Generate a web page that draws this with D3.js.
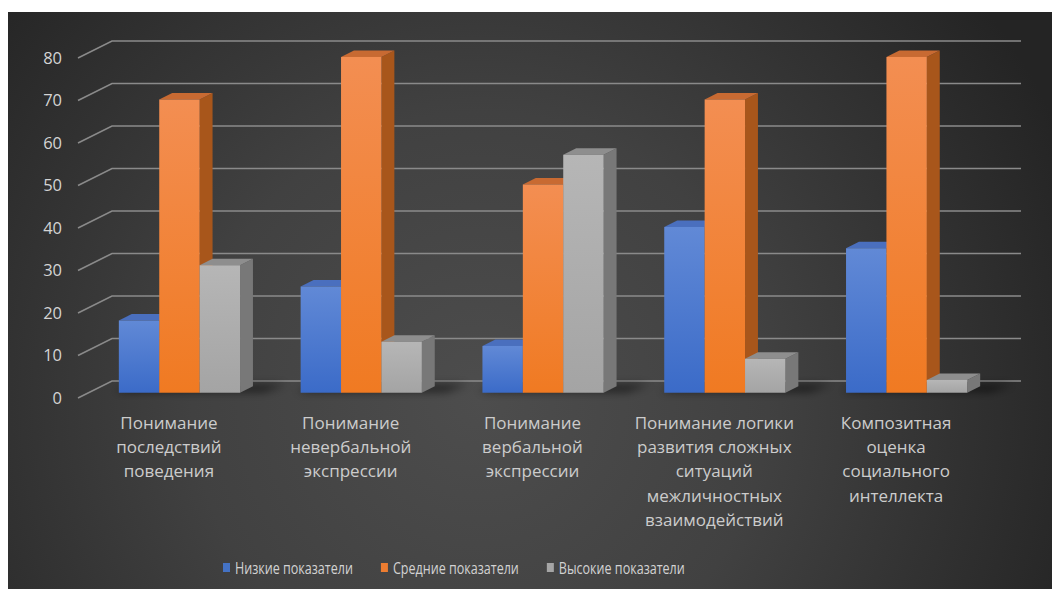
<!DOCTYPE html>
<html>
<head>
<meta charset="utf-8">
<script src="https://cdn.jsdelivr.net/npm/d3@7"></script>
<style>
  html, body { margin: 0; padding: 0; background: #ffffff; }
  svg { display: block; }
</style>
</head>
<body>
<svg id="chart" width="1052" height="589"></svg>
<script>
// Category labels (one array entry per line of the wrapped label)
const categories = [
  ["Понимание", "последствий", "поведения"],
  ["Понимание", "невербальной", "экспрессии"],
  ["Понимание", "вербальной", "экспрессии"],
  ["Понимание логики", "развития сложных", "ситуаций", "межличностных", "взаимодействий"],
  ["Композитная", "оценка", "социального", "интеллекта"]
];
const seriesNames = ["Низкие показатели", "Средние показатели", "Высокие показатели"];
const lowValues  = [17, 25, 11, 39, 34];
const midValues  = [69, 79, 49, 69, 79];
const highValues = [30, 12, 56, 8, 3];
const yTicks = [0, 10, 20, 30, 40, 50, 60, 70, 80];

const seriesValues = [lowValues, midValues, highValues];

// face colours per series: front gradient (top, bottom), top face, side face
const palette = [
  { top: "#6189d6", bottom: "#3b6bc8", cap: "#4a6fbe", side: "#34589f", legend: "#4472c4" },
  { top: "#f38e52", bottom: "#f07a22", cap: "#c86a32", side: "#a8561b", legend: "#ed7d31" },
  { top: "#b6b6b6", bottom: "#a4a4a4", cap: "#8e8e8e", side: "#787878", legend: "#a5a5a5" }
];

const svg = d3.select("#chart");
const W = 1052, H = 589;

// ----- background panel with radial shading -----
const defs = svg.append("defs");
const bg = defs.append("radialGradient").attr("id", "bgGrad")
  .attr("gradientUnits", "userSpaceOnUse")
  .attr("cx", 480).attr("cy", 400).attr("r", 640);
bg.append("stop").attr("offset", "0%").attr("stop-color", "#4d4d4d");
bg.append("stop").attr("offset", "45%").attr("stop-color", "#414141");
bg.append("stop").attr("offset", "100%").attr("stop-color", "#242424");

svg.append("rect").attr("x", 8).attr("y", 12).attr("width", W - 8).attr("height", H - 12)
  .attr("fill", "url(#bgGrad)");

palette.forEach((p, i) => {
  const g = defs.append("linearGradient").attr("id", "front" + i)
    .attr("x1", 0).attr("y1", 0).attr("x2", 0).attr("y2", 1);
  g.append("stop").attr("offset", "0%").attr("stop-color", p.top);
  g.append("stop").attr("offset", "100%").attr("stop-color", p.bottom);
});

const blur = defs.append("filter").attr("id", "shadowBlur")
  .attr("x", "-50%").attr("y", "-200%").attr("width", "200%").attr("height", "500%");
blur.append("feGaussianBlur").attr("stdDeviation", 4);

// ----- 3D projection (oblique) -----
const floorLeft = 78, floorFrontY = 398;   // front-left corner of the floor
const depthX = 34, depthY = 17;            // offset from front edge to back wall
const plotWidth = 909;

const y = d3.scaleLinear().domain([0, 80]).range([0, 340]);
const x0 = d3.scaleBand().domain(d3.range(categories.length)).range([0, plotWidth]).padding(0);
const x1 = d3.scaleBand().domain(d3.range(seriesNames.length)).range([0, x0.bandwidth()])
  .paddingInner(0).paddingOuter(0.75);

// u: position along the category axis, v: value, d: depth (0 = front, 1 = back wall)
function P(u, v, d) {
  return [floorLeft + u + d * depthX, floorFrontY - y(v) - d * depthY];
}
const pts = arr => arr.map(p => p.join(",")).join(" ");

// ----- gridlines: side-wall diagonal plus back-wall line -----
const grid = svg.append("g");
yTicks.forEach(t => {
  const a = P(0, t, 0), b = P(0, t, 1), c = P(plotWidth, t, 1);
  grid.append("polyline")
    .attr("points", pts([a, b, c]))
    .attr("fill", "none").attr("stroke", "#8a8a8a").attr("stroke-width", 1.6);
});

// value axis labels
svg.append("g").selectAll("text").data(yTicks).join("text")
  .attr("x", 62).attr("y", d => P(0, d, 0)[1])
  .attr("dy", "0.36em").attr("text-anchor", "end")
  .attr("font-family", "'Open Sans', sans-serif").attr("font-size", 16.5)
  .attr("fill", "#d4d4d4").text(d => d);

// ----- floor shadows under each cluster -----
const dFront = 0.31, dBack = 0.69;
const shadows = svg.append("g").attr("filter", "url(#shadowBlur)");
categories.forEach((c, ci) => {
  const uL = x0(ci) + x1(0), uR = x0(ci) + x1(seriesNames.length - 1) + x1.bandwidth();
  shadows.append("polygon")
    .attr("points", pts([P(uL - 6, 0, dFront + 0.05), P(uR + 22, 0, dFront + 0.05),
                         P(uR + 30, 0, dBack + 0.1), P(uL - 2, 0, dBack + 0.1)]))
    .attr("fill", "#000").attr("opacity", 0.55);
});

// ----- bars -----
const bars = svg.append("g");
categories.forEach((c, ci) => {
  seriesValues.forEach((vals, si) => {
    const v = vals[ci];
    const uL = x0(ci) + x1(si), uR = uL + x1.bandwidth();
    const p = palette[si];
    const g = bars.append("g");
    // right side face
    g.append("polygon")
      .attr("points", pts([P(uR, 0, dFront), P(uR, v, dFront), P(uR, v, dBack), P(uR, 0, dBack)]))
      .attr("fill", p.side);
    // top face
    g.append("polygon")
      .attr("points", pts([P(uL, v, dFront), P(uR, v, dFront), P(uR, v, dBack), P(uL, v, dBack)]))
      .attr("fill", p.cap);
    // front face
    const fl = P(uL, v, dFront), fr = P(uR, 0, dFront);
    g.append("rect")
      .attr("x", fl[0]).attr("y", fl[1])
      .attr("width", fr[0] - fl[0]).attr("height", fr[1] - fl[1])
      .attr("fill", "url(#front" + si + ")");
  });
});

// ----- category labels -----
const catG = svg.append("g")
  .attr("font-family", "'Open Sans', sans-serif").attr("font-size", 17)
  .attr("fill", "#cccccc").attr("text-anchor", "middle");
categories.forEach((lines, ci) => {
  const cx = P(x0(ci) + x0.bandwidth() / 2, 0, 0)[0];
  const t = catG.append("text").attr("x", cx).attr("y", 429);
  lines.forEach((ln, li) => {
    t.append("tspan").attr("x", cx).attr("dy", li === 0 ? 0 : 24.2).text(ln);
  });
});

// ----- legend (narrow face, squeezed horizontally) -----
const legend = svg.append("g")
  .attr("font-family", "'Open Sans', sans-serif").attr("font-size", 16.5)
  .attr("fill", "#d2d2d2");
const squeeze = 0.76;
let lx = 223;
seriesNames.forEach((name, si) => {
  legend.append("rect").attr("x", lx).attr("y", 563).attr("width", 7).attr("height", 9)
    .attr("fill", palette[si].legend);
  const t = legend.append("text").attr("x", lx + 12).attr("y", 568).attr("dy", "0.35em").text(name);
  const w = t.node().getComputedTextLength() * squeeze;
  t.attr("textLength", w).attr("lengthAdjust", "spacingAndGlyphs");
  lx += 12 + w + 28;
});
</script>
</body>
</html>
